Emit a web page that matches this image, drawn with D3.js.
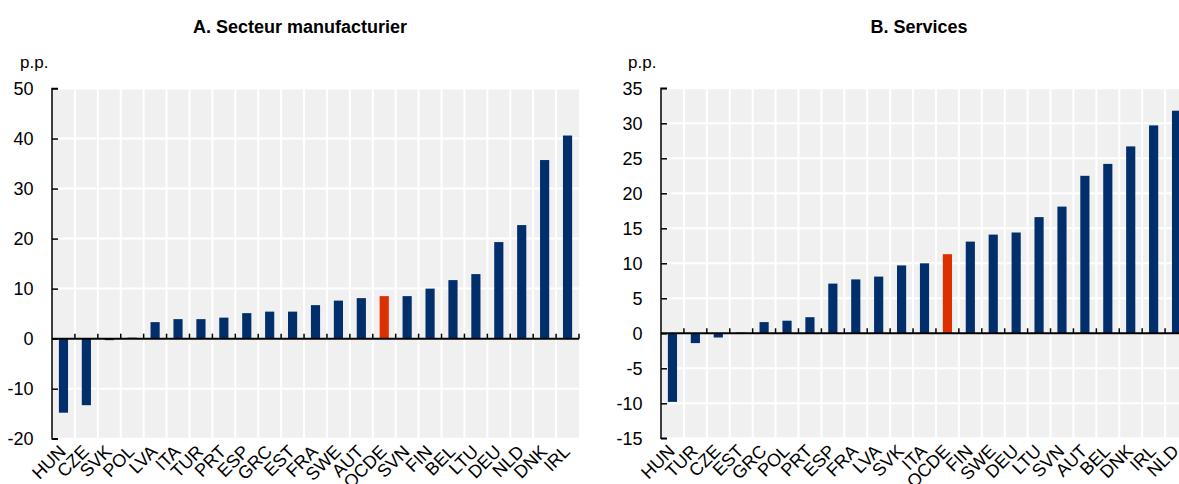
<!DOCTYPE html>
<html>
<head>
<meta charset="utf-8">
<script src="https://cdn.jsdelivr.net/npm/d3@7"></script>
<style>
  html, body { margin: 0; padding: 0; background: #fff; }
  svg { display: block; }
  text { font-family: "Liberation Sans Narrow", "Arial Narrow", "Liberation Sans", Arial, sans-serif; fill: #000; }
  .title { font-weight: bold; font-size: 18px; }
</style>
</head>
<body>
<svg id="chart" width="1179" height="484"></svg>
<script>
// Panel A: manufacturing
const categoriesA = ["HUN","CZE","SVK","POL","LVA","ITA","TUR","PRT","ESP","GRC","EST","FRA","SWE","AUT","OCDE","SVN","FIN","BEL","LTU","DEU","NLD","DNK","IRL"];
const valuesA = [-14.8,-13.3,-0.3,0.2,3.3,3.9,3.9,4.2,5.1,5.4,5.4,6.7,7.6,8.1,8.5,8.5,10.0,11.7,12.9,19.3,22.7,35.7,40.6];
const ticksA = [-20,-10,0,10,20,30,40,50];

// Panel B: services
const categoriesB = ["HUN","TUR","CZE","EST","GRC","POL","PRT","ESP","FRA","LVA","SVK","ITA","OCDE","FIN","SWE","DEU","LTU","SVN","AUT","BEL","DNK","IRL","NLD"];
const valuesB = [-9.8,-1.4,-0.6,0.1,1.6,1.8,2.3,7.1,7.7,8.1,9.7,10.0,11.3,13.1,14.1,14.4,16.6,18.1,22.5,24.2,26.7,29.7,31.8];
const ticksB = [-15,-10,-5,0,5,10,15,20,25,30,35];

const titles = ["A. Secteur manufacturier", "B. Services"];
const unitLabel = "p.p.";
const highlight = "OCDE";

const NAVY = "#002F6C";
const RED = "#DC3000";
const BG = "#F0F0F0";

const svg = d3.select("#chart");

function panel(opts) {
  const { cats, vals, ticks, left, right, top, bottom, title, titleX, unitX } = opts;
  const g = svg.append("g");

  const x = d3.scaleBand().domain(cats).range([left, right]).paddingInner(0.6).paddingOuter(0.3);
  const y = d3.scaleLinear().domain([ticks[0], ticks[ticks.length - 1]]).range([bottom, top]);

  // background
  g.append("rect").attr("x", left).attr("y", top).attr("width", right - left).attr("height", bottom - top).attr("fill", BG);

  // horizontal grid
  g.selectAll("line.hg").data(ticks).join("line")
    .attr("x1", left).attr("x2", right)
    .attr("y1", d => y(d)).attr("y2", d => y(d))
    .attr("stroke", "#fff").attr("stroke-width", 2);

  // vertical grid at category boundaries
  const bounds = d3.range(cats.length + 1).map(i => left + i * (right - left) / cats.length);
  g.selectAll("line.vg").data(bounds.slice(1, -1)).join("line")
    .attr("x1", d => d).attr("x2", d => d)
    .attr("y1", top).attr("y2", bottom)
    .attr("stroke", "#fff").attr("stroke-width", 2);

  // bars
  g.selectAll("rect.bar").data(cats).join("rect")
    .attr("x", d => x(d))
    .attr("width", x.bandwidth())
    .attr("y", (d, i) => y(Math.max(0, vals[i])))
    .attr("height", (d, i) => Math.abs(y(vals[i]) - y(0)))
    .attr("fill", d => d === highlight ? RED : NAVY);

  // zero line with category ticks
  g.append("line").attr("x1", left).attr("x2", right).attr("y1", y(0)).attr("y2", y(0))
    .attr("stroke", "#000").attr("stroke-width", 2);
  g.selectAll("line.xt").data(bounds.slice(1)).join("line")
    .attr("x1", d => d).attr("x2", d => d)
    .attr("y1", y(0) - 5).attr("y2", y(0))
    .attr("stroke", "#000").attr("stroke-width", 1.5);

  // y axis
  const yAxis = d3.axisRight(y).tickValues(ticks).tickSize(6).tickFormat("");
  const ya = g.append("g").attr("transform", `translate(${left},0)`).call(yAxis);
  ya.select(".domain").attr("stroke", "#000").attr("stroke-width", 1.5).attr("d", `M6,${top}H0V${bottom}H6`);
  ya.selectAll(".tick line").attr("stroke", "#000").attr("stroke-width", 1.5);

  g.selectAll("text.yl").data(ticks).join("text")
    .attr("x", left - 18.5).attr("y", d => y(d))
    .attr("dy", "0.35em").attr("text-anchor", "end")
    .style("font-size", "18px")
    .text(d => d);

  // category labels
  g.selectAll("text.xl").data(cats).join("text")
    .attr("transform", d => `translate(${x(d) + x.bandwidth() / 2 + 3.5},${bottom + 14}) rotate(-45)`)
    .attr("text-anchor", "end")
    .style("font-size", "18px")
    .text(d => d);

  // unit and title
  g.append("text").attr("x", unitX).attr("y", 68).style("font-size", "17px").text(unitLabel);
  g.append("text").attr("class", "title").attr("x", titleX).attr("y", 33).attr("text-anchor", "middle").text(title);
}

panel({ cats: categoriesA, vals: valuesA, ticks: ticksA, left: 52, right: 579, top: 88.5, bottom: 438.7, title: titles[0], titleX: 300, unitX: 20 });
panel({ cats: categoriesB, vals: valuesB, ticks: ticksB, left: 661, right: 1188, top: 88.3, bottom: 438.3, title: titles[1], titleX: 919, unitX: 628 });
</script>
</body>
</html>
